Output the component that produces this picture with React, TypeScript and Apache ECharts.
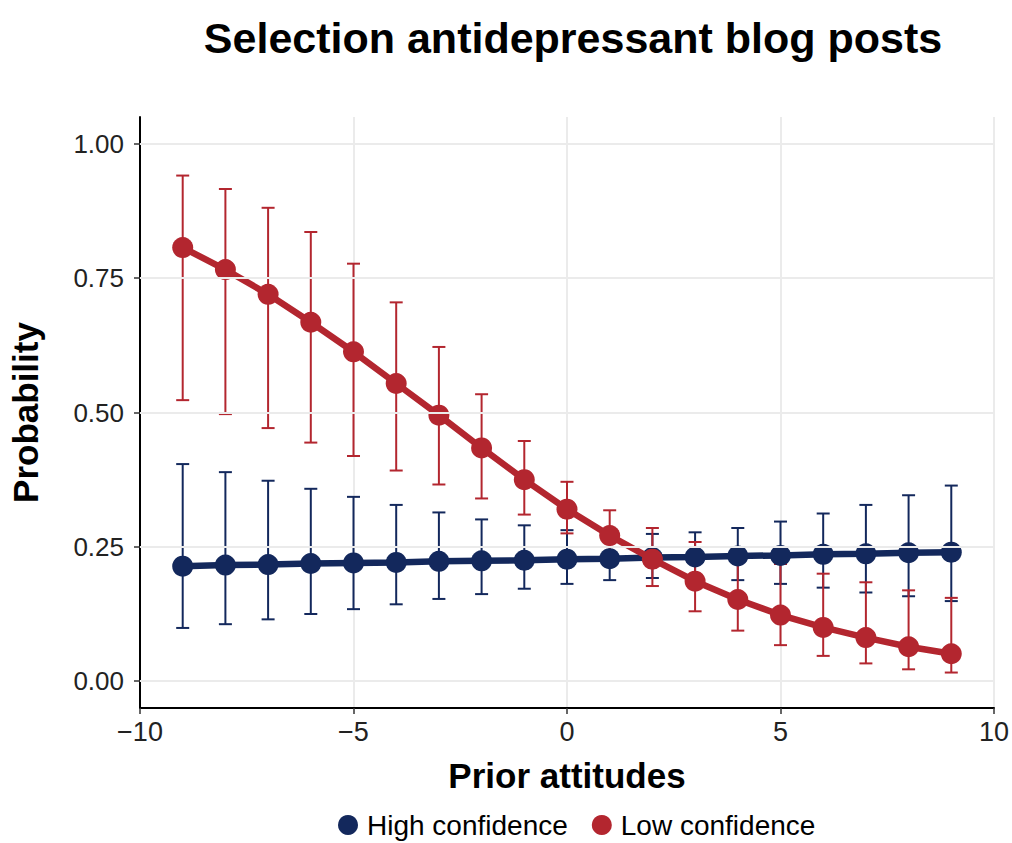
import React, { useEffect, useRef } from "react";
import * as echarts from "echarts";

const xValues = [-9, -8, -7, -6, -5, -4, -3, -2, -1, 0, 1, 2, 3, 4, 5, 6, 7, 8, 9];
const highMean = [0.214, 0.216, 0.217, 0.219, 0.220, 0.221, 0.223, 0.224, 0.225, 0.227, 0.228, 0.230, 0.231, 0.233, 0.234, 0.236, 0.237, 0.239, 0.240];
const highUpper = [0.404, 0.389, 0.373, 0.358, 0.343, 0.328, 0.314, 0.301, 0.290, 0.281, 0.276, 0.274, 0.277, 0.285, 0.297, 0.312, 0.328, 0.346, 0.364];
const highLower = [0.099, 0.106, 0.115, 0.125, 0.134, 0.143, 0.153, 0.162, 0.172, 0.181, 0.188, 0.192, 0.192, 0.188, 0.181, 0.174, 0.165, 0.158, 0.149];
const lowMean = [0.807, 0.766, 0.720, 0.668, 0.613, 0.554, 0.495, 0.434, 0.375, 0.320, 0.271, 0.227, 0.186, 0.152, 0.123, 0.100, 0.081, 0.064, 0.051];
const lowUpper = [0.941, 0.916, 0.881, 0.836, 0.777, 0.705, 0.622, 0.534, 0.447, 0.371, 0.318, 0.285, 0.259, 0.236, 0.218, 0.200, 0.184, 0.169, 0.155];
const lowLower = [0.523, 0.497, 0.471, 0.444, 0.419, 0.392, 0.366, 0.340, 0.310, 0.275, 0.227, 0.177, 0.130, 0.094, 0.067, 0.047, 0.033, 0.022, 0.016];
const yTicks = [0, 0.25, 0.5, 0.75, 1];
const seriesNames = ["High confidence", "Low confidence"];

const NAVY = "#13285c";
const RED = "#b3262f";
const FONT = "'Liberation Sans', Arial, Helvetica, sans-serif";

function errorSeries(name: string, lower: number[], upper: number[], color: string) {
  return {
    type: "custom",
    name,
    silent: true,
    itemStyle: { color },
    data: xValues.map((x, i) => [x, lower[i], upper[i]]),
    encode: { x: 0, y: [1, 2] },
    renderItem: (params: any, api: any) => {
      const x = api.value(0);
      const lo = api.coord([x, api.value(1)]);
      const hi = api.coord([x, api.value(2)]);
      const hw = 6.5;
      const style = { stroke: color, lineWidth: 2, fill: "none" };
      return {
        type: "group",
        children: [
          { type: "line", shape: { x1: lo[0], y1: lo[1], x2: hi[0], y2: hi[1] }, style },
          { type: "line", shape: { x1: hi[0] - hw, y1: hi[1], x2: hi[0] + hw, y2: hi[1] }, style },
          { type: "line", shape: { x1: lo[0] - hw, y1: lo[1], x2: lo[0] + hw, y2: lo[1] }, style },
        ],
      };
    },
    z: 2,
  };
}

function lineSeries(name: string, values: number[], color: string, z: number) {
  return {
    type: "line",
    name,
    data: xValues.map((x, i) => [x, values[i]]),
    symbol: "circle",
    symbolSize: 21,
    showSymbol: true,
    lineStyle: { color, width: 6.5 },
    itemStyle: { color },
    z,
  };
}

export default function App() {
  const ref = useRef<HTMLDivElement>(null);
  useEffect(() => {
    document.body.style.margin = "0";
    const chart = echarts.init(ref.current!, null, { renderer: "svg" });
    chart.setOption({
      animation: false,
      backgroundColor: "#ffffff",
      title: {
        text: "Selection antidepressant blog posts",
        left: 568,
        top: 11,
        textAlign: "center",
        textStyle: { fontFamily: FONT, fontWeight: "bold", fontSize: 43, color: "#000" },
      },
      legend: {
        data: [
          { name: seriesNames[0], itemStyle: { color: NAVY } },
          { name: seriesNames[1], itemStyle: { color: RED } },
        ],
        left: 333,
        top: 806,
        icon: "circle",
        itemWidth: 20,
        itemHeight: 20,
        itemGap: 24,
        textStyle: { fontFamily: FONT, fontSize: 28, lineHeight: 28, color: "#000", padding: [0, 0, 0, 4] },
      },
      grid: { left: 140, right: 17, top: 117, bottom: 135, containLabel: false },
      xAxis: {
        type: "value",
        min: -10,
        max: 10,
        interval: 5,
        name: "Prior attitudes",
        nameLocation: "middle",
        nameGap: 50,
        nameTextStyle: { fontFamily: FONT, fontWeight: "bold", fontSize: 35, color: "#000" },
        axisLine: { show: true, onZero: false, lineStyle: { color: "#000", width: 2 } },
        axisTick: { show: true, length: 6, lineStyle: { color: "#333", width: 1.5 } },
        axisLabel: {
          fontFamily: FONT,
          fontSize: 27,
          color: "#222",
          margin: 10,
          formatter: (v: number) => (v < 0 ? "\u2212" + Math.abs(v) : String(v)),
        },
        splitLine: { show: true, lineStyle: { color: "#ebebeb", width: 2 } },
      },
      yAxis: {
        type: "value",
        min: -0.05,
        max: 1.05,
        name: "Probability",
        nameLocation: "middle",
        nameGap: 97,
        nameTextStyle: { fontFamily: FONT, fontWeight: "bold", fontSize: 35, color: "#000" },
        axisLine: { show: true, onZero: false, lineStyle: { color: "#000", width: 2 } },
        axisTick: { show: true, length: 6, customValues: yTicks, lineStyle: { color: "#333", width: 1.5 } },
        axisLabel: {
          fontFamily: FONT,
          fontSize: 26,
          color: "#222",
          margin: 16,
          customValues: yTicks,
          formatter: (v: number) => v.toFixed(2),
        },
        splitLine: { show: false },
      },
      series: [
        {
          type: "line",
          name: "grid",
          data: [],
          silent: true,
          markLine: {
            silent: true,
            symbol: "none",
            label: { show: false },
            lineStyle: { color: "#ebebeb", width: 2, type: "solid" },
            data: yTicks.map((v) => ({ yAxis: v })),
          },
          z: 1,
        },
        errorSeries(seriesNames[0], highLower, highUpper, NAVY),
        errorSeries(seriesNames[1], lowLower, lowUpper, RED),
        lineSeries(seriesNames[0], highMean, NAVY, 3),
        lineSeries(seriesNames[1], lowMean, RED, 4),
      ],
    });
    return () => chart.dispose();
  }, []);
  return <div ref={ref} style={{ width: 1012, height: 843 }} />;
}
